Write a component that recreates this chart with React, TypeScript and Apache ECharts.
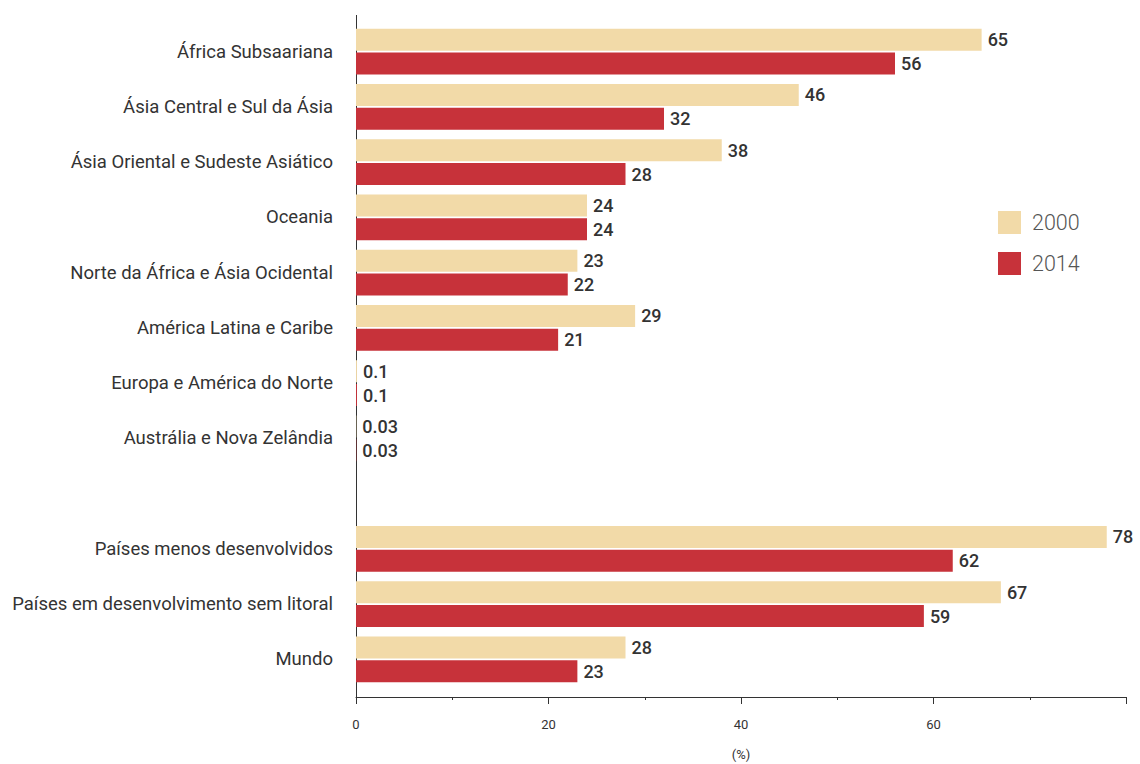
import React, { useEffect, useRef } from "react";
import * as echarts from "echarts";

const categories = [
  "África Subsaariana",
  "Ásia Central e Sul da Ásia",
  "Ásia Oriental e Sudeste Asiático",
  "Oceania",
  "Norte da África e Ásia Ocidental",
  "América Latina e Caribe",
  "Europa e América do Norte",
  "Austrália e Nova Zelândia",
  "",
  "Países menos desenvolvidos",
  "Países em desenvolvimento sem litoral",
  "Mundo",
];
const values2000: (number | null)[] = [65, 46, 38, 24, 23, 29, 0.1, 0.03, null, 78, 67, 28];
const values2014: (number | null)[] = [56, 32, 28, 24, 22, 21, 0.1, 0.03, null, 62, 59, 23];
const xTicks = [0, 20, 40, 60];

export default function App() {
  const ref = useRef<HTMLDivElement>(null);
  useEffect(() => {
    if (!ref.current) return;
    const chart = echarts.init(ref.current, null, { renderer: "svg" });
    const font = "Roboto, 'Noto Sans', sans-serif";
    const label = {
      show: true,
      position: "right" as const,
      distance: 6,
      color: "#333",
      fontSize: 18,
      fontWeight: 500,
      fontFamily: font,
      padding: [5, 0, 0, 0],
    };
    chart.setOption({
      animation: false,
      textStyle: { fontFamily: font },
      grid: { left: 356, right: 14, top: 24, height: 663, outerBoundsMode: "none", containLabel: false },
      legend: {
        orient: "vertical",
        left: 998,
        top: 211,
        padding: 0,
        itemWidth: 23,
        itemHeight: 23,
        itemGap: 18,
        textStyle: { fontSize: 21.5, color: "#555", fontWeight: 300, fontFamily: font, padding: [3, 0, 0, 6] },
        icon: "rect",
        data: ["2000", "2014"],
      },
      xAxis: {
        type: "value",
        min: 0,
        max: 80,
        interval: 20,
        offset: 10,
        name: "(%)",
        nameLocation: "middle",
        nameGap: 51,
        nameTextStyle: { fontSize: 13, color: "#333" },
        axisLine: { show: true, lineStyle: { color: "#333", width: 1 } },
        axisTick: { show: true, length: 7, lineStyle: { color: "#333" } },
        minorTick: { show: true, splitNumber: 2, length: 3, lineStyle: { color: "#333" } },
        splitLine: { show: false },
        axisLabel: {
          fontSize: 13,
          color: "#333",
          margin: 21,
          formatter: (v: number) => (xTicks.includes(v) ? String(v) : ""),
        },
      },
      yAxis: {
        type: "category",
        inverse: true,
        data: categories,
        axisLine: { show: false },
        axisTick: { show: false },
        axisLabel: { fontSize: 18.5, color: "#333", margin: 23 },
      },
      graphic: [
        {
          type: "line",
          shape: { x1: 356.5, y1: 15, x2: 356.5, y2: 697 },
          style: { stroke: "#333", lineWidth: 1 },
          silent: true,
        },
      ],
      series: [
        {
          name: "2000",
          type: "bar",
          data: values2000,
          barWidth: 22,
          barGap: "8%",
          itemStyle: { color: "#F2DAA8" },
          label,
        },
        {
          name: "2014",
          type: "bar",
          data: values2014,
          barWidth: 22,
          barGap: "8%",
          itemStyle: { color: "#C7323A" },
          label,
        },
      ],
    });
    return () => chart.dispose();
  }, []);
  return <div ref={ref} style={{ width: 1140, height: 764, position: "absolute", left: 0, top: 0 }} />;
}
